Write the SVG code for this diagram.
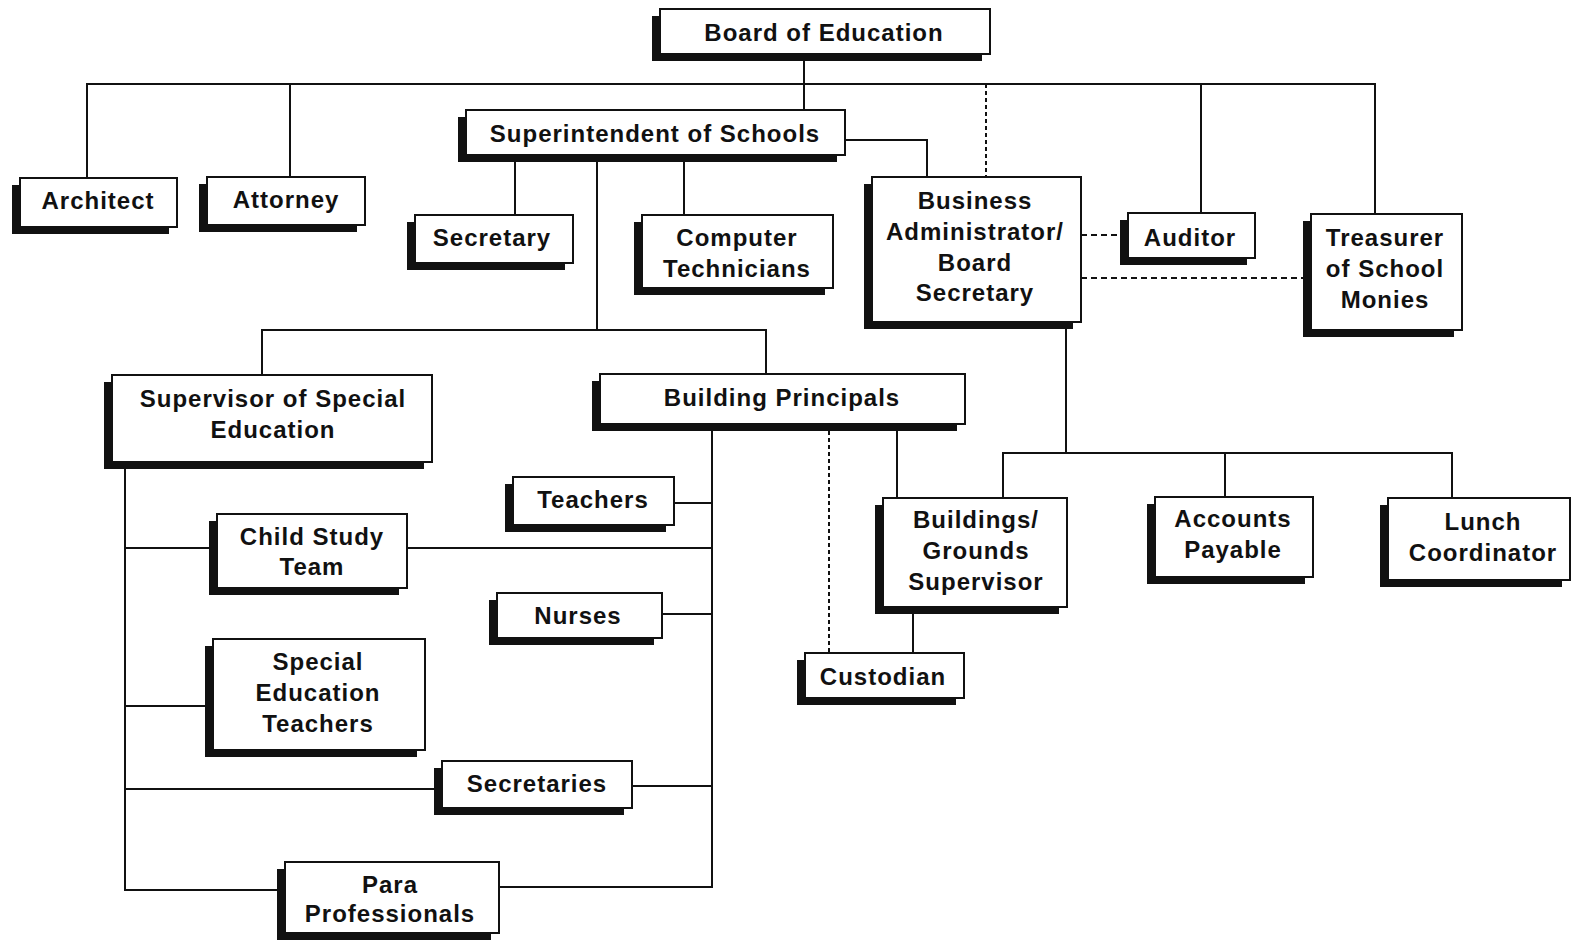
<svg xmlns="http://www.w3.org/2000/svg" width="1572" height="942" viewBox="0 0 1572 942">
<style>
.bg{fill:#fff}
.sh{fill:#111}
.bx{fill:#fff;stroke:#111;stroke-width:2}
.t{font-family:"Liberation Sans",Arial,sans-serif;font-weight:bold;font-size:24px;letter-spacing:1px;fill:#111;text-anchor:middle}
.ln{stroke:#111;stroke-width:2;fill:none}
.dh{stroke:#111;stroke-width:2;fill:none;stroke-dasharray:6,4}
.dv{stroke:#111;stroke-width:2;fill:none;stroke-dasharray:4,3}
</style>
<rect class="bg" x="0" y="0" width="1572" height="942"/>
<g id="connectors">
<path class="ln" d="M804,54V110"/>
<path class="ln" d="M87,178V84H1375V214"/>
<path class="ln" d="M290,84V177"/>
<path class="ln" d="M1201,84V213"/>
<path class="dv" d="M986,84V177"/>
<path class="ln" d="M845,140H927V177"/>
<path class="ln" d="M515,155V215"/>
<path class="ln" d="M684,155V215"/>
<path class="ln" d="M597,155V330"/>
<path class="ln" d="M262,375V330H766V374"/>
<path class="dh" d="M1081,235H1128"/>
<path class="dh" d="M1081,278H1305"/>
<path class="ln" d="M1066,322V453"/>
<path class="ln" d="M1003,498V453H1452V498"/>
<path class="ln" d="M1225,453V497"/>
<path class="ln" d="M712,424V887H499"/>
<path class="dv" d="M829,424V653"/>
<path class="ln" d="M897,424V498"/>
<path class="ln" d="M913,607V653"/>
<path class="ln" d="M674,503H712"/>
<path class="ln" d="M407,548H712"/>
<path class="ln" d="M662,614H712"/>
<path class="ln" d="M632,786H712"/>
<path class="ln" d="M125,462V890H285"/>
<path class="ln" d="M125,548H217"/>
<path class="ln" d="M125,706H213"/>
<path class="ln" d="M125,789H442"/>
</g>
<g id="board"><rect class="sh" x="652" y="16" width="330" height="45"/><rect class="bx" x="660" y="9" width="330" height="45"/><text class="t" x="824" y="41">Board of Education</text></g>
<g id="superintendent"><rect class="sh" x="458" y="117" width="379" height="45"/><rect class="bx" x="466" y="110" width="379" height="45"/><text class="t" x="655" y="142">Superintendent of Schools</text></g>
<g id="architect"><rect class="sh" x="12" y="185" width="157" height="49"/><rect class="bx" x="20" y="178" width="157" height="49"/><text class="t" x="98" y="209">Architect</text></g>
<g id="attorney"><rect class="sh" x="199" y="184" width="158" height="48"/><rect class="bx" x="207" y="177" width="158" height="48"/><text class="t" x="286" y="208">Attorney</text></g>
<g id="secretary"><rect class="sh" x="407" y="222" width="158" height="48"/><rect class="bx" x="415" y="215" width="158" height="48"/><text class="t" x="492" y="246">Secretary</text></g>
<g id="computer"><rect class="sh" x="634" y="222" width="191" height="73"/><rect class="bx" x="642" y="215" width="191" height="73"/><text class="t" x="737" y="246">Computer</text><text class="t" x="737" y="277">Technicians</text></g>
<g id="business"><rect class="sh" x="864" y="184" width="209" height="145"/><rect class="bx" x="872" y="177" width="209" height="145"/><text class="t" x="975" y="209">Business</text><text class="t" x="975" y="240">Administrator/</text><text class="t" x="975" y="271">Board</text><text class="t" x="975" y="301">Secretary</text></g>
<g id="auditor"><rect class="sh" x="1120" y="220" width="127" height="45"/><rect class="bx" x="1128" y="213" width="127" height="45"/><text class="t" x="1190" y="246">Auditor</text></g>
<g id="treasurer"><rect class="sh" x="1303" y="221" width="151" height="116"/><rect class="bx" x="1311" y="214" width="151" height="116"/><text class="t" x="1385" y="246">Treasurer</text><text class="t" x="1385" y="277">of School</text><text class="t" x="1385" y="308">Monies</text></g>
<g id="supervisor"><rect class="sh" x="104" y="382" width="320" height="87"/><rect class="bx" x="112" y="375" width="320" height="87"/><text class="t" x="273" y="407">Supervisor of Special</text><text class="t" x="273" y="438">Education</text></g>
<g id="principals"><rect class="sh" x="592" y="381" width="365" height="50"/><rect class="bx" x="600" y="374" width="365" height="50"/><text class="t" x="782" y="406">Building Principals</text></g>
<g id="childstudy"><rect class="sh" x="209" y="521" width="190" height="74"/><rect class="bx" x="217" y="514" width="190" height="74"/><text class="t" x="312" y="545">Child Study</text><text class="t" x="312" y="575">Team</text></g>
<g id="teachers"><rect class="sh" x="505" y="484" width="161" height="48"/><rect class="bx" x="513" y="477" width="161" height="48"/><text class="t" x="593" y="508">Teachers</text></g>
<g id="nurses"><rect class="sh" x="489" y="600" width="165" height="45"/><rect class="bx" x="497" y="593" width="165" height="45"/><text class="t" x="578" y="624">Nurses</text></g>
<g id="buildings"><rect class="sh" x="875" y="505" width="184" height="109"/><rect class="bx" x="883" y="498" width="184" height="109"/><text class="t" x="976" y="528">Buildings/</text><text class="t" x="976" y="559">Grounds</text><text class="t" x="976" y="590">Supervisor</text></g>
<g id="custodian"><rect class="sh" x="797" y="660" width="159" height="45"/><rect class="bx" x="805" y="653" width="159" height="45"/><text class="t" x="883" y="685">Custodian</text></g>
<g id="accounts"><rect class="sh" x="1147" y="504" width="158" height="80"/><rect class="bx" x="1155" y="497" width="158" height="80"/><text class="t" x="1233" y="527">Accounts</text><text class="t" x="1233" y="558">Payable</text></g>
<g id="lunch"><rect class="sh" x="1380" y="505" width="182" height="82"/><rect class="bx" x="1388" y="498" width="182" height="82"/><text class="t" x="1483" y="530">Lunch</text><text class="t" x="1483" y="561">Coordinator</text></g>
<g id="specialed"><rect class="sh" x="205" y="646" width="212" height="111"/><rect class="bx" x="213" y="639" width="212" height="111"/><text class="t" x="318" y="670">Special</text><text class="t" x="318" y="701">Education</text><text class="t" x="318" y="732">Teachers</text></g>
<g id="secretaries"><rect class="sh" x="434" y="768" width="190" height="47"/><rect class="bx" x="442" y="761" width="190" height="47"/><text class="t" x="537" y="792">Secretaries</text></g>
<g id="para"><rect class="sh" x="277" y="869" width="214" height="71"/><rect class="bx" x="285" y="862" width="214" height="71"/><text class="t" x="390" y="893">Para</text><text class="t" x="390" y="922">Professionals</text></g>
</svg>
